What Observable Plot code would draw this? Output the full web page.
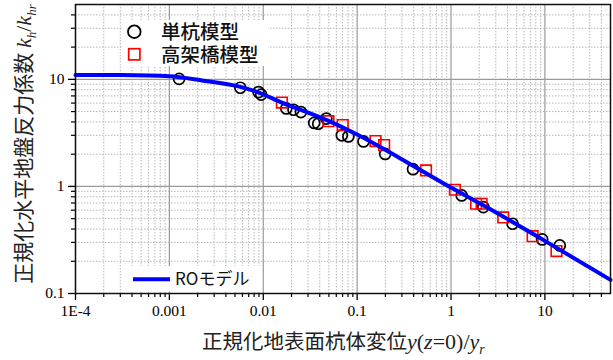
<!DOCTYPE html>
<html>
<head>
<meta charset="utf-8">
<script src="https://cdn.jsdelivr.net/npm/d3@7"></script>
<script src="https://cdn.jsdelivr.net/npm/@observablehq/plot@0.6"></script>
<style>
  html, body { margin: 0; padding: 0; background: #fff; }
</style>
</head>
<body>
<div id="chart"></div>
<script>
// Normalized ground displacement y(z=0)/y_r vs. normalized subgrade reaction k_h/k_hr

// Single-pile model tests
const singleX = [0.00127, 0.0057, 0.0089, 0.0095, 0.0176, 0.0210, 0.0252, 0.0349, 0.0385, 0.047,
                 0.0687, 0.0807, 0.117, 0.199, 0.394, 1.30, 2.21, 4.53, 9.36, 14.4];
const singleY = [10.1, 8.35, 7.6, 7.2, 5.35, 5.2, 4.95, 3.92, 3.85, 4.3,
                 3.0, 2.93, 2.63, 2.01, 1.45, 0.824, 0.641, 0.448, 0.320, 0.281];

// Viaduct model tests
const bridgeX = [0.0158, 0.0495, 0.0702, 0.157, 0.194, 0.542, 1.10, 1.85, 2.12, 3.60, 7.40, 13.3];
const bridgeY = [6.07, 4.07, 3.74, 2.65, 2.43, 1.41, 0.931, 0.689, 0.689, 0.513, 0.343, 0.249];

// RO model curve
const roX = [1e-4, 3e-4, 1e-3, 2.3e-3, 5.7e-3, 9.3e-3, 0.0158, 0.03, 0.0495, 0.1, 0.39, 1, 2.6, 10, 50];
const roY = [11.0, 10.95, 10.7, 9.7, 8.5, 7.45, 6.05, 4.9, 4.1, 3.05, 1.57, 0.975, 0.615, 0.31, 0.134];

// Axis ticks
const xMajor = [1e-4, 1e-3, 1e-2, 1e-1, 1, 10];
const xTickLabels = ["1E-4", "0.001", "0.01", "0.1", "1", "10"];
const yMajor = [0.1, 1, 10];
const yTickLabels = ["0.1", "1", "10"];
const xMinor = d3.range(-4, 2).flatMap(e => d3.range(2, 10).map(m => m * Math.pow(10, e))).filter(v => v < 50);
const yMinor = d3.range(-1, 2).flatMap(e => d3.range(2, 10).map(m => m * Math.pow(10, e))).filter(v => v < 50);

const single = singleX.map((x, i) => ({x, y: singleY[i]}));
const bridge = bridgeX.map((x, i) => ({x, y: bridgeY[i]}));
const ro = roX.map((x, i) => ({x, y: roY[i]}));

const serif = "'Liberation Serif', 'Times New Roman', serif";
const cjk = "'Noto Sans CJK JP', 'Noto Sans', sans-serif";

const chart = Plot.plot({
  width: 613,
  height: 360,
  marginLeft: 75,
  marginRight: 3,
  marginTop: 4,
  marginBottom: 67,
  style: {fontFamily: serif, fontSize: "15.5px", color: "black", background: "white", overflow: "visible"},
  x: {type: "log", domain: [1e-4, 50]},
  y: {type: "log", domain: [0.1, 50]},
  marks: [
    Plot.gridX(xMinor, {stroke: "#b8b8b8", strokeOpacity: 1, strokeWidth: 1, strokeDasharray: "1.5,1.5"}),
    Plot.gridY(yMinor, {stroke: "#b8b8b8", strokeOpacity: 1, strokeWidth: 1, strokeDasharray: "1.5,1.5"}),
    Plot.gridX(xMajor, {stroke: "#9a9a9a", strokeOpacity: 1, strokeWidth: 1.2}),
    Plot.gridY(yMajor, {stroke: "#9a9a9a", strokeOpacity: 1, strokeWidth: 1.2}),
    Plot.axisX(xMinor, {tickSize: 4, tickFormat: () => "", label: null, strokeWidth: 1.2}),
    Plot.axisY(yMinor, {tickSize: 4, tickFormat: () => "", label: null, strokeWidth: 1.2}),
    Plot.axisX(xMajor, {tickSize: 7, tickPadding: 4, strokeWidth: 1.3, label: null,
      tickFormat: d => xTickLabels[xMajor.indexOf(d)]}),
    Plot.axisY(yMajor, {tickSize: 7, tickPadding: 4, strokeWidth: 1.3, label: null,
      tickFormat: d => yTickLabels[yMajor.indexOf(d)]}),
    Plot.dot(single, {x: "x", y: "y", r: 5.5, stroke: "black", strokeWidth: 1.7, fill: "none"}),
    Plot.dot(bridge, {x: "x", y: "y", symbol: "square", r: 6, stroke: "#ff0000", strokeWidth: 1.6, fill: "none"}),
    Plot.line(ro, {x: "x", y: "y", stroke: "#0000ff", strokeWidth: 4, curve: "monotone-x"}),
    Plot.frame({stroke: "#111", strokeWidth: 1.5})
  ]
});

document.getElementById("chart").appendChild(chart);

const svg = d3.select(chart);

// Legend for the test series
const lg = svg.append("g").attr("text-anchor", "start");
lg.append("rect").attr("x", 123).attr("y", 20).attr("width", 145).attr("height", 46).attr("fill", "white");
lg.append("circle").attr("cx", 134.3).attr("cy", 31.7).attr("r", 6.3)
  .attr("fill", "none").attr("stroke", "black").attr("stroke-width", 1.8);
lg.append("rect").attr("x", 128.7).attr("y", 48.7).attr("width", 11.2).attr("height", 11.2)
  .attr("fill", "none").attr("stroke", "#ff0000").attr("stroke-width", 1.7);
lg.append("text").attr("x", 161).attr("y", 38.8).attr("font-family", cjk).attr("font-size", 19.5)
  .attr("font-weight", 500).attr("fill", "#111").text("単杭模型");
lg.append("text").attr("x", 161).attr("y", 62).attr("font-family", cjk).attr("font-size", 19.5)
  .attr("font-weight", 500).attr("fill", "#111").text("高架橋模型");

// Legend for the RO curve
const lg2 = svg.append("g").attr("text-anchor", "start");
lg2.append("rect").attr("x", 124).attr("y", 266).attr("width", 138).attr("height", 25.5).attr("fill", "white");
lg2.append("line").attr("x1", 133).attr("x2", 170).attr("y1", 279.3).attr("y2", 279.3)
  .attr("stroke", "#0000ff").attr("stroke-width", 4);
lg2.append("text").attr("x", 175).attr("y", 285.2).attr("font-family", cjk).attr("font-size", 17)
  .attr("fill", "#111").text("ROモデル");

// Axis titles
const xt = svg.append("text").attr("x", 202).attr("y", 349).attr("fill", "#222")
  .attr("text-anchor", "start").attr("font-family", cjk).attr("font-size", 20.5);
xt.append("tspan").text("正規化地表面杭体変位");
xt.append("tspan").attr("font-family", serif).attr("font-style", "italic").attr("font-size", 22).text("y");
xt.append("tspan").attr("font-family", serif).attr("font-size", 22).text("(");
xt.append("tspan").attr("font-family", serif).attr("font-style", "italic").attr("font-size", 22).text("z");
xt.append("tspan").attr("font-family", serif).attr("font-size", 22).text("=0)/");
xt.append("tspan").attr("font-family", serif).attr("font-style", "italic").attr("font-size", 22).text("y");
xt.append("tspan").attr("font-family", serif).attr("font-style", "italic").attr("font-size", 14)
  .attr("dy", 5).text("r");

const yt = svg.append("text").attr("transform", "translate(31,144) rotate(-90)")
  .attr("text-anchor", "middle").attr("fill", "#222")
  .attr("font-family", cjk).attr("font-size", 21);
yt.append("tspan").text("正規化水平地盤反力係数 ");
yt.append("tspan").attr("font-family", serif).attr("font-style", "italic").attr("font-size", 22).text("k");
yt.append("tspan").attr("font-family", serif).attr("font-style", "italic").attr("font-size", 13).attr("dy", 5).text("h");
yt.append("tspan").attr("font-family", serif).attr("font-size", 22).attr("dy", -5).text("/");
yt.append("tspan").attr("font-family", serif).attr("font-style", "italic").attr("font-size", 22).text("k");
yt.append("tspan").attr("font-family", serif).attr("font-style", "italic").attr("font-size", 13).attr("dy", 5).text("hr");
</script>
</body>
</html>
